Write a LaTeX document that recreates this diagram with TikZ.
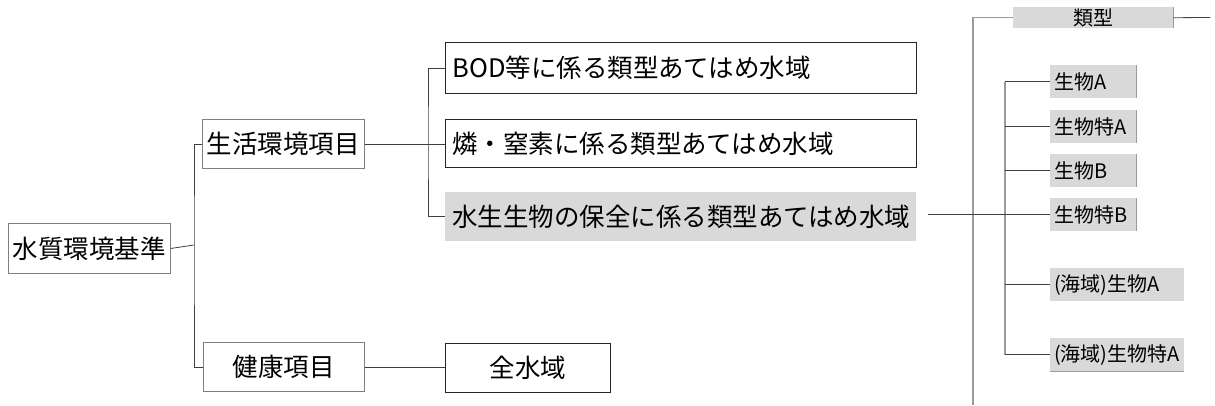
\documentclass[tikz,border=0pt]{standalone}
\usepackage{fontspec}
\setmainfont{Noto Sans CJK JP}
\usetikzlibrary{calc}
\definecolor{boxgray}{HTML}{D9D9D9}
\definecolor{edgegray}{HTML}{9A9A9A}
\definecolor{linegray}{HTML}{404040}
\definecolor{bordergray}{HTML}{7F7F7F}
\begin{document}
\begin{tikzpicture}[x=1pt,y=-1pt,
  bigtext/.style={font=\fontsize{25.5}{30}\selectfont},
  smalltext/.style={font=\fontsize{20}{24}\selectfont},
  graybox/.style={draw=bordergray,line width=0.9pt,inner sep=0pt,anchor=north west,bigtext},
  darkbox/.style={draw=black!85,line width=0.9pt,inner sep=0pt,anchor=north west,bigtext},
  fillbox/.style={fill=boxgray,inner sep=0pt,anchor=north west},
  conn/.style={draw=linegray,line width=0.8pt},
  vline/.style={draw=edgegray,line width=1.3pt},
  edge/.style={draw=edgegray,line width=0.9pt}
]
\useasboundingbox (0,0) rectangle (1215,405);
% left tree
\node[graybox,minimum width=162,minimum height=50] (root) at (8,223) {水質環境基準};
\node[graybox,minimum width=162,minimum height=49] (seikatsu) at (202,119) {生活環境項目};
\node[graybox,minimum width=161,minimum height=49] (kenko) at (203,342) {健康項目};
\node[darkbox,minimum height=51,text width=457,inner xsep=7,align=left] (bod) at (445,42) {BOD等に係る類型あてはめ水域};
\node[darkbox,minimum height=48,text width=457,inner xsep=7,align=left] (rin) at (445,119) {燐・窒素に係る類型あてはめ水域};
\node[fillbox,bigtext,minimum height=49,text width=457,inner xsep=7,align=left] (suisei) at (445,192) {水生生物の保全に係る類型あてはめ水域};
\node[darkbox,minimum width=165,minimum height=49] (zen) at (445,343) {全水域};

\coordinate (j1) at (194,245);
\draw[conn] (root.east) -- (j1);
\draw[conn] (seikatsu.west) -| (j1) |- (kenko.west);
\draw[conn] (seikatsu.east) -- (seikatsu.east -| rin.west);
\coordinate (j2) at (428,143);
\draw[conn] (bod.west) -| (j2) |- (suisei.west);
\draw[conn] (kenko.east) -- (kenko.east -| zen.west);

% right panel
\node[fillbox,smalltext,minimum width=160,minimum height=21] (ruikei) at (1013,7) {類型};
\draw[edge] (ruikei.north east) -- (ruikei.south east);
\coordinate (rbot) at (973,405);
\coordinate (rend) at (1210,17.5);
\draw[vline] (ruikei.west) -| (rbot);
\draw[conn] (ruikei.east) -- (rend);

\node[fillbox,smalltext,minimum height=33,text width=78,inner xsep=4,align=left] (ya) at (1050,65) {生物A};
\node[fillbox,smalltext,minimum height=33,text width=78,inner xsep=4,align=left] (tokuA) at (1050,110) {生物特A};
\node[fillbox,smalltext,minimum height=33,text width=78,inner xsep=4,align=left] (b) at (1050,154) {生物B};
\node[fillbox,smalltext,minimum height=33,text width=78,inner xsep=4,align=left] (tokuB) at (1050,198) {生物特B};
\node[fillbox,smalltext,minimum height=33,text width=126,inner xsep=4,align=left] (kaiA) at (1050,268) {(海域)生物A};
\node[fillbox,smalltext,minimum height=33,text width=126,inner xsep=4,align=left] (kaitokuA) at (1050,338) {(海域)生物特A};
\foreach \n in {ya,tokuA,b,tokuB}{\draw[edge] (\n.north east) -- (\n.south east);}
\draw[edge] (kaitokuA.south west) -- (kaitokuA.south east);

\coordinate (v) at (1005,0);
\draw[vline] (ya.west -| v) -- (kaitokuA.west -| v);
\draw[conn] (ya.west) -- (ya.west -| v);
\draw[conn] (tokuA.west) -- (tokuA.west -| v);
\draw[conn] (b.west) -- (b.west -| v);
\draw[conn] (kaiA.west) -- (kaiA.west -| v);
\draw[conn] (kaitokuA.west) -- (kaitokuA.west -| v);
\coordinate (sstart) at ([xshift=12pt]suisei.east);
\draw[conn] (tokuB.west -| sstart) -- (tokuB.west);
\end{tikzpicture}
\end{document}
